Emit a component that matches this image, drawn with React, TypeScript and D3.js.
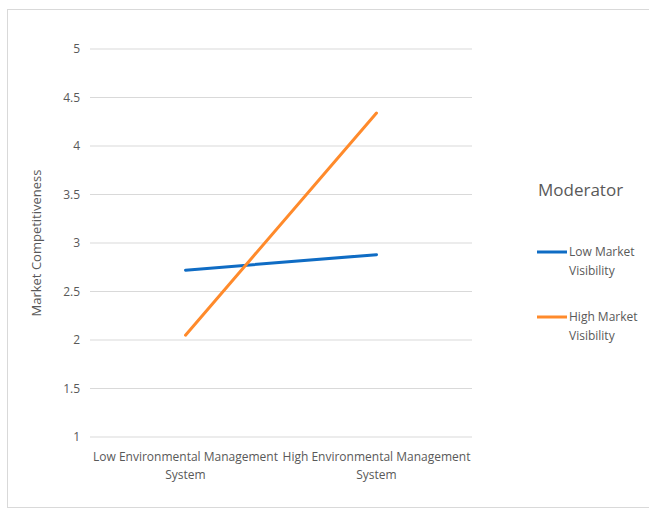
import { useEffect, useRef } from 'react';
import * as d3 from 'd3';

const categories = ['Low Environmental Management|System', 'High Environmental Management|System'];
const lowVisibility = [2.72, 2.88];
const highVisibility = [2.05, 4.34];
const yTicks = [1, 1.5, 2, 2.5, 3, 3.5, 4, 4.5, 5];
const seriesNames = ['Low Market|Visibility', 'High Market|Visibility'];
const seriesColors = ['#0f6cc4', '#ff8a2b'];

function App() {
  const svgRef = useRef<SVGSVGElement>(null);

  useEffect(() => {
    if (!svgRef.current) return;
    const svg = d3.select(svgRef.current);
    svg.selectAll('*').remove();

    const width = 649;
    const height = 509;
    const font = '"Open Sans", "Liberation Sans", sans-serif';
    const textColor = '#595959';

    svg.attr('viewBox', `0 0 ${width} ${height}`);

    // chart frame
    svg.append('rect')
      .attr('x', 7.5)
      .attr('y', 9.5)
      .attr('width', width)
      .attr('height', height - 11)
      .attr('fill', '#fff')
      .attr('stroke', '#d9d9d9');

    const x = d3.scalePoint<string>()
      .domain(categories)
      .range([90, 472])
      .padding(0.5);

    const y = d3.scaleLinear()
      .domain([1, 5])
      .range([437, 49]);

    // gridlines
    svg.append('g')
      .selectAll('line')
      .data(yTicks)
      .enter()
      .append('line')
      .attr('x1', 90)
      .attr('x2', 472)
      .attr('y1', d => y(d))
      .attr('y2', d => y(d))
      .attr('stroke', '#d9d9d9')
      .attr('stroke-width', 1);

    // y tick labels
    svg.append('g')
      .selectAll('text')
      .data(yTicks)
      .enter()
      .append('text')
      .attr('x', 80)
      .attr('y', d => y(d) + 4)
      .attr('text-anchor', 'end')
      .attr('font-family', font)
      .attr('font-size', 12)
      .attr('fill', textColor)
      .text(d => String(d));

    // y axis title
    svg.append('text')
      .attr('transform', `translate(41, ${y(3)}) rotate(-90)`)
      .attr('text-anchor', 'middle')
      .attr('font-family', font)
      .attr('font-size', 13)
      .attr('fill', textColor)
      .text('Market Competitiveness');

    // category labels
    categories.forEach(cat => {
      const lines = cat.split('|');
      const t = svg.append('text')
        .attr('text-anchor', 'middle')
        .attr('font-family', font)
        .attr('font-size', 12)
        .attr('fill', textColor);
      lines.forEach((ln, i) => {
        t.append('tspan')
          .attr('x', x(cat)!)
          .attr('y', 461 + i * 18)
          .text(ln);
      });
    });

    // series lines
    const line = d3.line<number>()
      .x((_, i) => x(categories[i])!)
      .y(d => y(d));

    [lowVisibility, highVisibility].forEach((series, i) => {
      svg.append('path')
        .datum(series)
        .attr('d', line)
        .attr('fill', 'none')
        .attr('stroke', seriesColors[i])
        .attr('stroke-width', 3)
        .attr('stroke-linecap', 'round');
    });

    // legend
    svg.append('text')
      .attr('x', 538)
      .attr('y', 196)
      .attr('font-family', font)
      .attr('font-size', 17)
      .attr('fill', textColor)
      .text('Moderator');

    seriesNames.forEach((name, i) => {
      const top = 252 + i * 65;
      svg.append('line')
        .attr('x1', 537)
        .attr('x2', 567)
        .attr('y1', top)
        .attr('y2', top)
        .attr('stroke', seriesColors[i])
        .attr('stroke-width', 3);
      const t = svg.append('text')
        .attr('font-family', font)
        .attr('font-size', 12)
        .attr('fill', textColor);
      name.split('|').forEach((ln, j) => {
        t.append('tspan')
          .attr('x', 569)
          .attr('y', top + 4 + j * 19)
          .text(ln);
      });
    });
  }, []);

  return (
    <svg
      ref={svgRef}
      width={649}
      height={509}
      style={{ position: 'absolute', left: 0, top: 0, display: 'block' }}
    />
  );
}

export default App;
